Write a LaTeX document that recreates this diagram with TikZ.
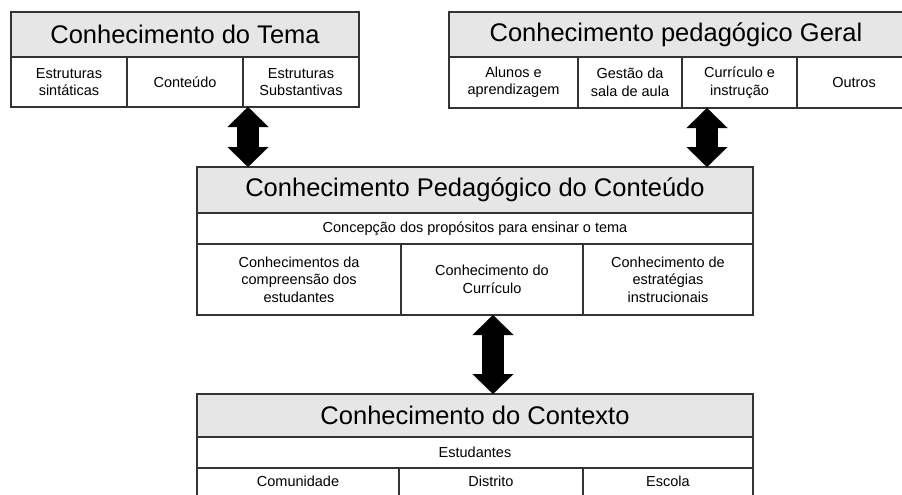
\documentclass[tikz,border=0pt]{standalone}
\usepackage{fontspec}
\setmainfont{Liberation Sans}
\usepackage{xcolor}
\usetikzlibrary{arrows.meta}

\definecolor{linegray}{HTML}{333333}
\definecolor{headgray}{HTML}{E6E6E6}

\begin{document}
\begin{tikzpicture}[x=1pt, y=-1pt,
    every node/.style={rectangle, draw=linegray, line width=1.2pt, inner sep=1pt, outer sep=0pt, anchor=north west, align=center},
    head/.style={fill=headgray, font=\fontsize{25.5}{30}\selectfont},
    cell/.style={fill=white, font=\fontsize{14.5}{17.5}\selectfont},
    link/.style={line width=22pt, {Triangle[width=41pt, length=20pt, line width=0.1pt]}-{Triangle[width=41pt, length=20pt, line width=0.1pt]}}]
    \clip (0,0) rectangle (902,495);

    % Conhecimento do Tema
    \node[head, minimum width=348pt, minimum height=45pt] (tema) at (11,12) {Conhecimento do Tema};
    \node[cell, minimum width=116pt, minimum height=50pt] (tema1) at (11,57) {Estruturas\\sintáticas};
    \node[cell, minimum width=116pt, minimum height=50pt] (tema2) at (127,57) {Conteúdo};
    \node[cell, minimum width=116pt, minimum height=50pt] (tema3) at (243,57) {Estruturas\\Substantivas};

    % Conhecimento pedagogico Geral
    \node[head, minimum width=462pt, minimum height=45pt] (geral) at (449,12) {\hspace*{-8pt}Conhecimento pedagógico Geral};
    \node[cell, minimum width=129pt, minimum height=51pt] (geral1) at (449,57) {Alunos e\\aprendizagem};
    \node[cell, minimum width=104pt, minimum height=51pt] (geral2) at (578,57) {Gestão da\\sala de aula};
    \node[cell, minimum width=115pt, minimum height=51pt] (geral3) at (682,57) {Currículo e\\instrução};
    \node[cell, minimum width=114pt, minimum height=51pt] (geral4) at (797,57) {Outros};

    % Conhecimento Pedagogico do Conteudo
    \node[head, minimum width=556pt, minimum height=46pt] (pcc) at (197,167) {Conhecimento Pedagógico do Conteúdo};
    \node[cell, minimum width=556pt, minimum height=31pt] (pcc0) at (197,213) {Concepção dos propósitos para ensinar o tema};
    \node[cell, minimum width=204pt, minimum height=71pt] (pcc1) at (197,244) {Conhecimentos da\\compreensão dos\\estudantes};
    \node[cell, minimum width=182pt, minimum height=71pt] (pcc2) at (401,244) {Conhecimento do\\Currículo};
    \node[cell, minimum width=170pt, minimum height=71pt] (pcc3) at (583,244) {Conhecimento de\\estratégias\\instrucionais};

    % Conhecimento do Contexto
    \node[head, minimum width=556pt, minimum height=43pt] (ctx) at (197,394) {Conhecimento do Contexto};
    \node[cell, minimum width=556pt, minimum height=31pt] (ctx0) at (197,437) {Estudantes};
    \node[cell, minimum width=202pt, minimum height=34pt] (ctx1) at (197,468) {\raisebox{8pt}{Comunidade}};
    \node[cell, minimum width=184pt, minimum height=34pt] (ctx2) at (399,468) {\raisebox{8pt}{Distrito}};
    \node[cell, minimum width=170pt, minimum height=34pt] (ctx3) at (583,468) {\raisebox{8pt}{Escola}};

    \draw[link] ([xshift=5pt]tema3.south west) -- ([xshift=5pt]tema3.south west |- pcc.north);
    \draw[link] ([xshift=25pt]geral3.south west) -- ([xshift=25pt]geral3.south west |- pcc.north);
    \draw[link] ([xshift=92pt]pcc2.south west) -- ([xshift=92pt]pcc2.south west |- ctx.north);
\end{tikzpicture}
\end{document}
